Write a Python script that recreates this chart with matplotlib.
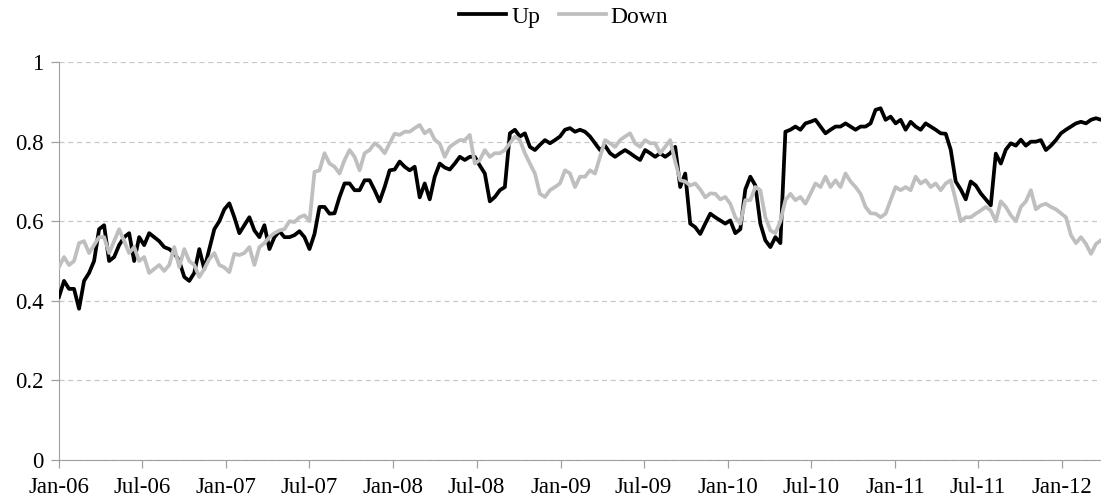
import numpy as np
import pandas as pd
import matplotlib
matplotlib.use("Agg")
import matplotlib.pyplot as plt
import matplotlib.dates as mdates

plt.rcParams['font.family'] = ['Liberation Serif', 'DejaVu Serif']

# readings every ~11 days, Jan-06 .. late Mar-12
start_date = '2006-01-01'
end_date = '2012-03-26'

up = [
    0.41, 0.45, 0.43, 0.43, 0.38, 0.45, 0.47, 0.50, 0.58, 0.59, 0.50, 0.51,
    0.54, 0.56, 0.57, 0.50, 0.56, 0.54, 0.57, 0.56, 0.55, 0.535, 0.53, 0.52,
    0.50, 0.46, 0.45, 0.47, 0.53, 0.48, 0.53, 0.58, 0.60,
    # 2007
    0.63, 0.645, 0.61, 0.57, 0.59, 0.61, 0.577, 0.56, 0.59, 0.53, 0.56, 0.575,
    0.56, 0.56, 0.565, 0.575, 0.56, 0.53, 0.568, 0.636, 0.636, 0.619, 0.62, 0.661,
    0.695, 0.695, 0.678, 0.678, 0.703, 0.703, 0.678, 0.65, 0.686, 0.728,
    # 2008
    0.73, 0.75, 0.737, 0.728, 0.737, 0.66, 0.695, 0.655, 0.712, 0.745, 0.735, 0.73,
    0.745, 0.762, 0.754, 0.762, 0.762, 0.74, 0.72, 0.65, 0.661, 0.678, 0.686, 0.821,
    0.83, 0.813, 0.821, 0.787, 0.779, 0.792, 0.804, 0.796, 0.804, 0.813,
    # 2009
    0.83, 0.834, 0.825, 0.83, 0.825, 0.813, 0.796, 0.779, 0.79, 0.771, 0.762, 0.771,
    0.779, 0.771, 0.762, 0.754, 0.779, 0.771, 0.762, 0.771, 0.762, 0.771, 0.787, 0.686,
    0.72, 0.594, 0.585, 0.568, 0.594, 0.619, 0.61, 0.602, 0.594, 0.602,
    # 2010
    0.57, 0.58, 0.68, 0.712, 0.69, 0.594, 0.552, 0.535, 0.56, 0.545, 0.825, 0.83,
    0.838, 0.83, 0.846, 0.85, 0.855, 0.838, 0.821, 0.83, 0.838, 0.838, 0.846, 0.838,
    0.83, 0.838, 0.838, 0.846, 0.88, 0.884, 0.855, 0.863, 0.846, 0.855,
    # 2011-12
    0.83, 0.85, 0.838, 0.83, 0.846, 0.838, 0.83, 0.821, 0.82, 0.78, 0.70, 0.68,
    0.655, 0.70, 0.69, 0.67, 0.655, 0.64, 0.77, 0.745, 0.78, 0.796, 0.79, 0.805,
    0.79, 0.80, 0.80, 0.804, 0.779, 0.79, 0.804, 0.821, 0.83, 0.838, 0.846, 0.85,
    0.846, 0.855, 0.859, 0.855,
]

down = [
    0.485, 0.51, 0.49, 0.50, 0.545, 0.55, 0.52, 0.54, 0.56, 0.56, 0.52, 0.55,
    0.58, 0.55, 0.52, 0.535, 0.50, 0.51, 0.47, 0.48, 0.49, 0.475, 0.49, 0.535,
    0.485, 0.53, 0.50, 0.49, 0.46, 0.48, 0.505, 0.52, 0.49,
    # 2007
    0.484, 0.472, 0.518, 0.515, 0.52, 0.535, 0.49, 0.535, 0.545, 0.56, 0.57, 0.577,
    0.58, 0.60, 0.598, 0.61, 0.615, 0.60, 0.724, 0.728, 0.771, 0.745, 0.737, 0.72,
    0.754, 0.779, 0.762, 0.728, 0.771, 0.779, 0.796, 0.787, 0.771, 0.796,
    # 2008
    0.82, 0.817, 0.825, 0.825, 0.834, 0.842, 0.821, 0.83, 0.805, 0.795, 0.762, 0.787,
    0.796, 0.804, 0.804, 0.817, 0.745, 0.754, 0.779, 0.762, 0.771, 0.771, 0.779, 0.796,
    0.813, 0.804, 0.771, 0.745, 0.72, 0.669, 0.661, 0.678, 0.686, 0.695,
    # 2009
    0.728, 0.72, 0.686, 0.712, 0.712, 0.728, 0.72, 0.762, 0.804, 0.796, 0.787, 0.804,
    0.813, 0.821, 0.796, 0.787, 0.804, 0.796, 0.796, 0.771, 0.787, 0.804, 0.75, 0.703,
    0.70, 0.69, 0.695, 0.68, 0.66, 0.67, 0.669, 0.655, 0.661, 0.644,
    # 2010
    0.61, 0.594, 0.653, 0.653, 0.686, 0.678, 0.61, 0.577, 0.57, 0.60, 0.653, 0.669,
    0.653, 0.661, 0.644, 0.669, 0.695, 0.686, 0.712, 0.686, 0.703, 0.686, 0.72, 0.70,
    0.686, 0.669, 0.636, 0.62, 0.619, 0.61, 0.619, 0.653, 0.686, 0.678,
    # 2011-12
    0.686, 0.678, 0.712, 0.695, 0.703, 0.686, 0.695, 0.678, 0.695, 0.703, 0.653, 0.60,
    0.61, 0.61, 0.619, 0.627, 0.636, 0.627, 0.60, 0.65, 0.636, 0.615, 0.60, 0.636,
    0.65, 0.678, 0.63, 0.64, 0.644, 0.636, 0.63, 0.62, 0.61, 0.565, 0.545, 0.56,
    0.543, 0.518, 0.543, 0.552,
]

dates = pd.date_range(start_date, end_date, periods=len(up))

fig = plt.figure(figsize=(11.01, 5.01), dpi=100)
ax = fig.add_axes([0.0536, 0.082, 0.9464, 0.794])

ax.plot(dates, up, color='black', lw=2.7, label='Up', zorder=3)
ax.plot(dates, down, color='#bfbfbf', lw=2.7, label='Down', zorder=4)

ax.set_ylim(0, 1)
ax.set_yticks([0, 0.2, 0.4, 0.6, 0.8, 1])
ax.set_yticklabels(['0', '0.2', '0.4', '0.6', '0.8', '1'])
ax.set_xlim(dates[0], dates[-1])
ax.xaxis.set_major_locator(mdates.MonthLocator(bymonth=[1, 7]))
ax.xaxis.set_major_formatter(mdates.DateFormatter('%b-%y'))

ax.grid(axis='y', color='#c8c8c8', ls=(0, (4, 3)), lw=0.9)
ax.set_axisbelow(True)
for s in ['top', 'right']:
    ax.spines[s].set_visible(False)
for s in ['left', 'bottom']:
    ax.spines[s].set_color('#a0a0a0')
ax.tick_params(axis='both', labelsize=16.5, colors='#a0a0a0', labelcolor='black',
               length=6, width=0.9)
ax.tick_params(axis='x', pad=6)
ax.tick_params(axis='y', pad=5)

fig.legend(loc='upper center', bbox_to_anchor=(0.512, 1.03), ncol=2, frameon=False,
           fontsize=17, handlelength=2.0, handletextpad=0.2, columnspacing=0.8)

fig.savefig('out.png', dpi=100)
